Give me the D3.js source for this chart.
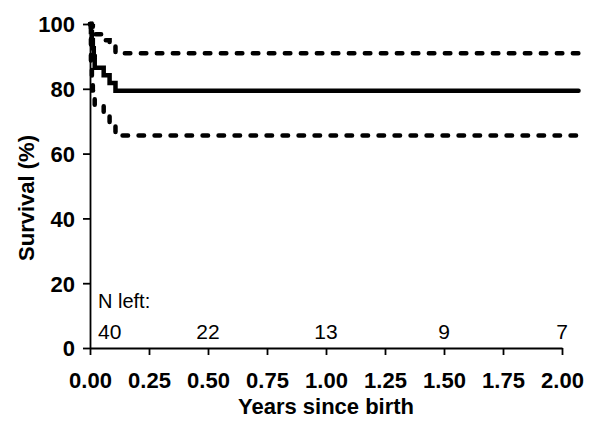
<!DOCTYPE html>
<html>
<head>
<meta charset="utf-8">
<script src="https://cdn.jsdelivr.net/npm/d3@7"></script>
<style>
  html, body { margin: 0; padding: 0; background: #fff; }
  svg { display: block; }
  text { font-family: "Liberation Sans", Arial, sans-serif; fill: #000; }
</style>
</head>
<body>
<svg id="chart" width="603" height="421"></svg>
<script>
// ---- data ----
const times    = [0, 0.004, 0.008, 0.012, 0.016, 0.02, 0.058, 0.083, 0.108, 2.07];
const survival = [100, 97.5, 95, 92.5, 90, 86.5, 84.2, 81.8, 79.4, 79.4];
const upperCI  = [100, 99.8, 99.3, 98.6, 97.8, 96.8, 95.0, 93.2, 91.0, 91.0];
const lowerCI  = [100, 87, 83, 79.5, 77, 74.8, 72.2, 69.3, 65.6, 65.6];
const xTicks = [0, 0.25, 0.5, 0.75, 1.0, 1.25, 1.5, 1.75, 2.0];
const yTicks = [0, 20, 40, 60, 80, 100];
const nLeftTimes  = [0, 0.5, 1.0, 1.5, 2.0];
const nLeftCounts = [40, 22, 13, 9, 7];

// ---- layout ----
const svg = d3.select("#chart");
const x = d3.scaleLinear().domain([0, 2]).range([90, 562]);
const y = d3.scaleLinear().domain([0, 100]).range([348, 24]);

// axes
const xAxis = svg.append("g").attr("transform", "translate(0,348)")
  .call(d3.axisBottom(x).tickValues(xTicks).tickFormat(d3.format(".2f")).tickSize(7).tickPadding(10).tickSizeOuter(0));
const yAxis = svg.append("g").attr("transform", "translate(90,0)")
  .call(d3.axisLeft(y).tickValues(yTicks).tickSize(7).tickPadding(8).tickSizeOuter(0));
[xAxis, yAxis].forEach(g => {
  g.select(".domain").attr("stroke", "#000").attr("stroke-width", 1.8);
  g.selectAll(".tick line").attr("stroke", "#000").attr("stroke-width", 1.8);
  g.selectAll(".tick text").attr("font-size", 22).attr("font-weight", "bold")
    .attr("font-family", "'Liberation Sans', Arial, sans-serif").attr("fill", "#000");
});
xAxis.selectAll(".tick text").attr("dy", null).attr("y", 40);
yAxis.selectAll(".tick text").attr("dy", "0.36em");

// lines
const pts = vals => times.map((t, i) => [t, vals[i]]);
const line = d3.line().x(d => x(d[0])).y(d => y(d[1])).curve(d3.curveStepAfter);

svg.append("path").datum(pts(upperCI)).attr("d", line)
  .attr("fill", "none").attr("stroke", "#000").attr("stroke-width", 4.5)
  .attr("stroke-dasharray", "5.5,10.5").attr("stroke-linecap", "round");
svg.append("path").datum(pts(lowerCI)).attr("d", line)
  .attr("fill", "none").attr("stroke", "#000").attr("stroke-width", 4.5)
  .attr("stroke-dasharray", "5.5,10.5").attr("stroke-linecap", "round");
svg.append("path").datum(pts(survival)).attr("d", line)
  .attr("fill", "none").attr("stroke", "#000").attr("stroke-width", 4.5)
  .attr("stroke-linecap", "round").attr("stroke-linejoin", "miter");

// N left
svg.append("text").attr("x", 98).attr("y", 308).attr("font-size", 20).text("N left:");
svg.selectAll("text.nleft").data(nLeftTimes).enter().append("text")
  .attr("class", "nleft")
  .attr("x", (d, i) => i === 0 ? x(d) + 8 : x(d))
  .attr("y", 339)
  .attr("font-size", 21)
  .attr("text-anchor", (d, i) => i === 0 ? "start" : "middle")
  .text((d, i) => nLeftCounts[i]);

// axis titles
svg.append("text").attr("x", 326).attr("y", 414).attr("text-anchor", "middle")
  .attr("font-size", 22).attr("font-weight", "bold").text("Years since birth");
svg.append("text").attr("transform", "translate(34,198) rotate(-90)").attr("text-anchor", "middle")
  .attr("font-size", 22).attr("font-weight", "bold").text("Survival (%)");
</script>
</body>
</html>
